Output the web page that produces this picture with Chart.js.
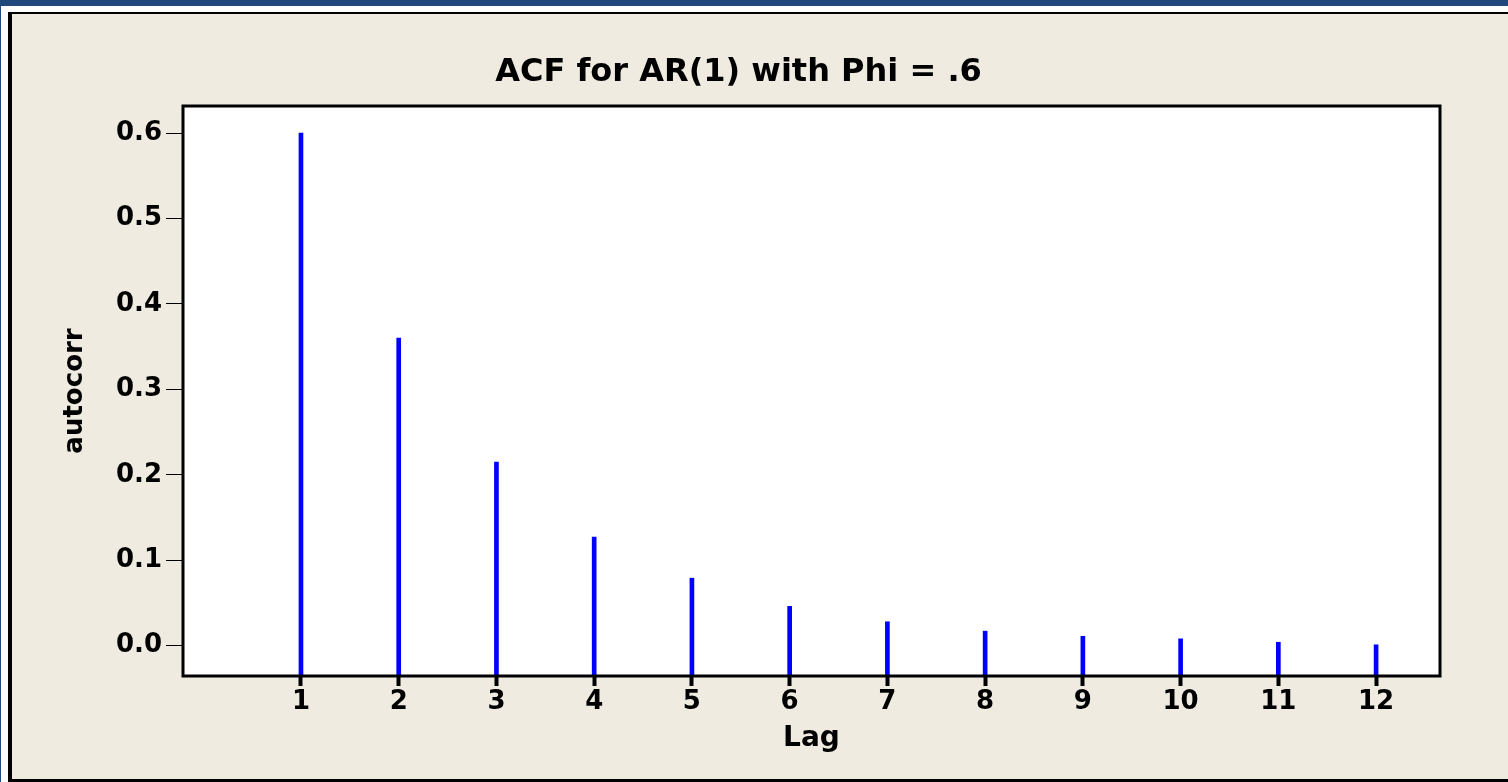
<!DOCTYPE html>
<html>
<head>
<meta charset="utf-8">
<title>ACF for AR(1) with Phi = .6</title>
<script src="https://cdn.jsdelivr.net/npm/chart.js@4"></script>
<style>
  html, body { margin: 0; padding: 0; width: 1508px; height: 782px; overflow: hidden; background: #fff; }
  #topBar { position: absolute; left: 0; top: 0; width: 1508px; height: 6px; background: #1f497d; }
  #leftBar { position: absolute; left: 0; top: 0; width: 1px; height: 782px; background: #1f497d; }
  #frame {
    position: absolute; left: 8px; top: 12px; width: 1510px; height: 770px; box-sizing: border-box;
    border-left: 4px solid #000; border-top: 2px solid #000; border-bottom: 3px solid #000;
    background: #efebe1;
  }
  #chart { position: absolute; left: 0; top: 0; }
</style>
</head>
<body>
<div id="topBar"></div>
<div id="leftBar"></div>
<div id="frame"></div>
<canvas id="chart" width="1508" height="782"></canvas>
<script>
// values
const lags = [1, 2, 3, 4, 5, 6, 7, 8, 9, 10, 11, 12];
const acfValues = [0.600, 0.360, 0.215, 0.127, 0.079, 0.046, 0.028, 0.017, 0.011, 0.008, 0.004, 0.001];
const yTicks = [0.0, 0.1, 0.2, 0.3, 0.4, 0.5, 0.6];
const xTicks = lags;

// axis ranges (plot box edges)
const Y_MIN = -0.0355, Y_MAX = 0.6316;
const X_MIN = -0.207, X_MAX = 12.654;

const FONT = "'DejaVu Sans', Verdana, sans-serif";

// white plot area + black box around it
const plotBox = {
    id: 'plotBox',
    beforeDraw(chart) {
        const a = chart.chartArea, ctx = chart.ctx;
        ctx.save();
        ctx.fillStyle = '#fff';
        ctx.fillRect(a.left, a.top, a.right - a.left, a.bottom - a.top);
        ctx.restore();
    },
    afterDatasetsDraw(chart) {
        const a = chart.chartArea, ctx = chart.ctx;
        ctx.save();
        ctx.lineWidth = 3;
        ctx.strokeStyle = '#000';
        ctx.strokeRect(a.left, a.top, a.right - a.left, a.bottom - a.top);
        ctx.restore();
    }
};

new Chart(document.getElementById('chart'), {
    type: 'bar',
    data: {
        datasets: [{
            data: lags.map((l, i) => ({ x: l, y: acfValues[i] })),
            backgroundColor: '#0000ff',
            borderWidth: 0,
            barThickness: 4,
            base: Y_MIN
        }]
    },
    options: {
        responsive: false,
        animation: false,
        layout: { padding: { left: 37, right: 68, top: 0, bottom: 0 } },
        plugins: {
            legend: { display: false },
            tooltip: { enabled: false },
            title: {
                display: true,
                text: 'ACF for AR(1) with Phi = .6',
                color: '#000',
                font: { family: FONT, size: 32, weight: 'bold' },
                padding: { top: 53, bottom: 14.6 }
            }
        },
        scales: {
            x: {
                type: 'linear',
                min: X_MIN,
                max: X_MAX,
                offset: false,
                afterBuildTicks: s => { s.ticks = xTicks.map(v => ({ value: v })); },
                afterFit: s => { s.height = 106; },
                ticks: {
                    color: '#000',
                    font: { family: FONT, size: 26, weight: 'bold' },
                    padding: 1,
                    autoSkip: false,
                    maxRotation: 0,
                    callback: v => String(v)
                },
                grid: { offset: false, drawOnChartArea: false, tickLength: 10, tickWidth: 4, tickColor: '#000' },
                border: { display: false },
                title: {
                    display: true,
                    text: 'Lag',
                    color: '#000',
                    font: { family: FONT, size: 28, weight: 'bold' },
                    padding: { top: 0, bottom: 26 }
                }
            },
            y: {
                type: 'linear',
                min: Y_MIN,
                max: Y_MAX,
                afterBuildTicks: s => { s.ticks = yTicks.map(v => ({ value: v })); },
                afterFit: s => { s.width = 146; },
                ticks: {
                    color: '#000',
                    font: { family: FONT, size: 26, weight: 'bold' },
                    padding: 4,
                    callback: v => v.toFixed(1)
                },
                grid: { drawOnChartArea: false, tickLength: 17, tickWidth: 1, tickColor: '#000' },
                border: { display: false },
                title: {
                    display: true,
                    text: 'autocorr',
                    color: '#000',
                    font: { family: FONT, size: 26, weight: 'bold' },
                    padding: { top: 23, bottom: 0 }
                }
            }
        }
    },
    plugins: [plotBox]
});
</script>
</body>
</html>
